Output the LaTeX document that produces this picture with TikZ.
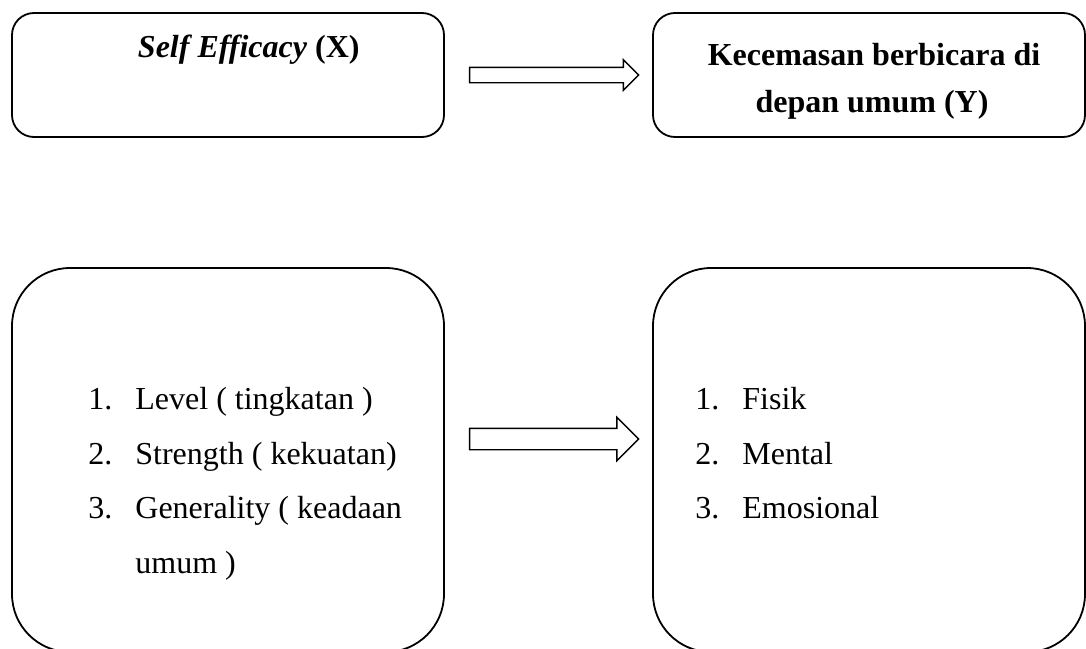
\documentclass[tikz,border=0pt]{standalone}
\usepackage{fontspec}
\setmainfont{Liberation Serif}
\usetikzlibrary{positioning, shapes.arrows}

\begin{document}
\begin{tikzpicture}[x=0.5pt,y=-0.5pt]
  \useasboundingbox (0,0) rectangle (1086,648);
  \clip (0,0) rectangle (1086,648);
  \begin{scope}[every node/.style={draw,line width=0.9pt,inner sep=0pt,minimum width=216pt}]
    \node (sebox) [rounded corners=11pt,minimum height=62pt] at (228,75) {};
    \node (kbox) [rounded corners=11pt,minimum height=62pt] at (869,75) {};
    \node (dimbox) [rounded corners=29pt,minimum height=192pt] at (228,460) {};
    \node (aspbox) [rounded corners=29pt,minimum height=192pt] at (869,460) {};
  \end{scope}
  \begin{scope}[every node/.style={single arrow,draw,line width=0.7pt,inner xsep=0pt,minimum width=0pt,minimum height=84.5pt,single arrow tip angle=90}]
    \node (arrtop) [right=12pt of sebox,inner ysep=3.5pt,single arrow head extend=3.75pt] {};
    \node (arrbot) [right=12pt of dimbox,yshift=10.5pt,inner ysep=5pt,single arrow head extend=5.5pt] {};
  \end{scope}
  \begin{scope}[every node/.style={inner sep=0pt,font=\fontsize{16pt}{19pt}\selectfont}]
    \node (setitle) [anchor=base east] at (360,57) {\textbf{\textit{Self Efficacy}} \textbf{(X)}};
    \node (ktitle1) [anchor=base] at (874,65) {\textbf{Kecemasan berbicara di}};
    \node (ktitle2) [anchor=base] at (872,112) {\textbf{depan umum (Y)}};
  \end{scope}
  \begin{scope}[every node/.style={anchor=base west,inner sep=0pt,font=\fontsize{16pt}{19pt}\selectfont}]
    \node (dnum1) at (88,409) {1.};
    \node (dim1) at (135,409) {Level ( tingkatan )};
    \node (dnum2) at (88,464) {2.};
    \node (dim2) at (135,464) {Strength ( kekuatan)};
    \node (dnum3) at (88,518) {3.};
    \node (dim3) at (135,518) {Generality ( keadaan};
    \node (dim3b) at (135,573) {umum )};
    \node (anum1) at (695,409) {1.};
    \node (asp1) at (742,409) {Fisik};
    \node (anum2) at (695,464) {2.};
    \node (asp2) at (742,464) {Mental};
    \node (anum3) at (695,518) {3.};
    \node (asp3) at (742,518) {Emosional};
  \end{scope}
\end{tikzpicture}
\end{document}
